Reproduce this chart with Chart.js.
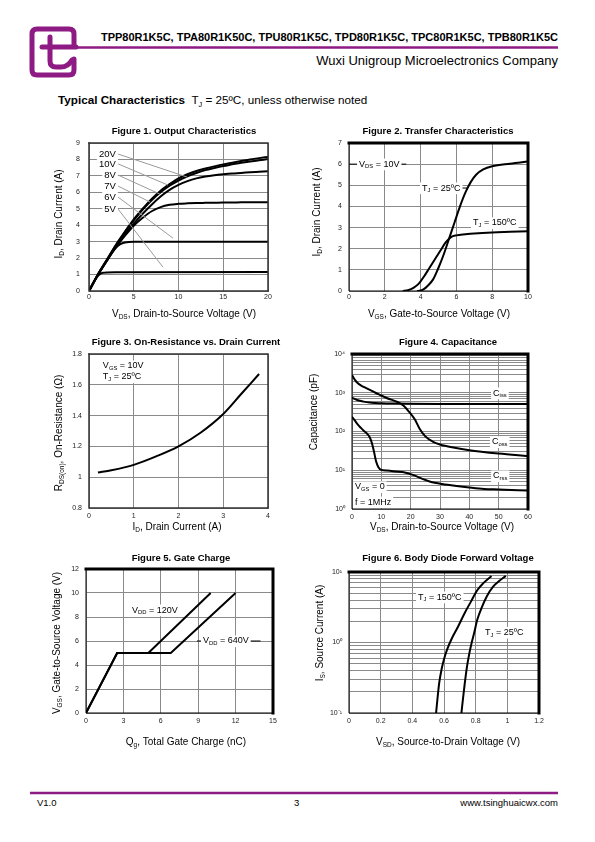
<!DOCTYPE html>
<html>
<head>
<meta charset="utf-8">
<script src="https://cdn.jsdelivr.net/npm/chart.js@4.4.1/dist/chart.umd.min.js"></script>
<style>
body { margin: 0; background: #fff; font-family: "Liberation Sans", Arial, sans-serif; color: #000; }
#page { position: relative; width: 595px; height: 842px; overflow: hidden; background: #fff; }
.txt { position: absolute; white-space: nowrap; }
canvas { position: absolute; }
.sub { font-size: 0.62em; position: relative; top: 0.35em; }
</style>
</head>
<body>
<div id="page">
  <svg class="txt" style="left:0;top:0" width="595" height="842">
    <g fill="none" stroke="#8e1b84" stroke-width="5" stroke-linecap="round" stroke-linejoin="round">
      <path d="M74 59 L74 70 Q74 75 69 75 L37 75 Q32 75 32 70 L32 34 Q32 29 37 29 L69 29 Q74 29 74 34 L74 46"/>
      <path d="M50 37 L50 61 Q50 67 56 67 L61 67 Q68 67 72 60"/>
      <path d="M42 47 L76 47"/>
    </g>
    <line x1="74" y1="47.5" x2="558" y2="47.5" stroke="#8e1b84" stroke-width="2.5"/>
    <line x1="30" y1="793" x2="558" y2="793" stroke="#8e1b84" stroke-width="2.5"/>
  </svg>
  <div class="txt" style="right:37px;top:31px;font-size:11px;line-height:13px;font-weight:bold">TPP80R1K5C, TPA80R1K50C, TPU80R1K5C, TPD80R1K5C, TPC80R1K5C, TPB80R1K5C</div>
  <div class="txt" style="right:37px;top:53px;font-size:13px;line-height:15px">Wuxi Unigroup Microelectronics Company</div>
  <div class="txt" style="left:58px;top:93px;font-size:11.7px;line-height:14px"><b>Typical Characteristics</b>&nbsp; T<span class="sub">J</span> = 25ºC, unless otherwise noted</div>
  <div class="txt" style="left:37px;top:797px;font-size:9.5px;line-height:12px">V1.0</div>
  <div class="txt" style="left:294px;top:797px;font-size:9.5px;line-height:12px">3</div>
  <div class="txt" style="right:37px;top:797px;font-size:9.5px;line-height:12px">www.tsinghuaicwx.com</div>

  <canvas id="fig1"></canvas>
  <canvas id="fig2"></canvas>
  <canvas id="fig3"></canvas>
  <canvas id="fig4"></canvas>
  <canvas id="fig5"></canvas>
  <canvas id="fig6"></canvas>
</div>

<script>
// Figure 1. Output Characteristics (I_D vs V_DS for several V_GS)
const outXTicks = [0, 5, 10, 15, 20];
const outYTicks = [0, 1, 2, 3, 4, 5, 6, 7, 8, 9];
const vdsOut = [0, 1, 2, 3, 4, 5, 6, 7, 8, 9, 10, 11, 12, 13, 14, 15, 16, 17, 18, 19, 20];
const id20V = [0, 1.0, 1.9, 2.8, 3.6, 4.35, 5.0, 5.6, 6.1, 6.5, 6.85, 7.1, 7.3, 7.45, 7.58, 7.7, 7.8, 7.9, 8.0, 8.08, 8.15];
const id10V = [0, 1.0, 1.9, 2.78, 3.57, 4.3, 4.95, 5.52, 6.0, 6.4, 6.72, 6.98, 7.18, 7.35, 7.48, 7.6, 7.7, 7.8, 7.88, 7.95, 8.02];
const id8V = [0, 1.0, 1.85, 2.7, 3.45, 4.1, 4.7, 5.25, 5.75, 6.15, 6.45, 6.68, 6.85, 6.96, 7.04, 7.1, 7.15, 7.18, 7.22, 7.25, 7.28];
const id7V = [0, 1.0, 1.85, 2.65, 3.35, 3.97, 4.45, 4.85, 5.1, 5.24, 5.3, 5.33, 5.35, 5.36, 5.37, 5.38, 5.38, 5.39, 5.39, 5.4, 5.4];
const vds6V = [0, 0.5, 1, 1.5, 2, 2.5, 3, 3.5, 4, 5, 20];
const id6V = [0, 0.5, 0.97, 1.42, 1.85, 2.28, 2.63, 2.85, 2.95, 3.0, 3.0];
const vds5V = [0, 0.5, 1, 1.3, 1.6, 2, 3, 20];
const id5V = [0, 0.5, 0.92, 1.06, 1.11, 1.13, 1.14, 1.15];

// Figure 2. Transfer Characteristics
const trXTicks = [0, 2, 4, 6, 8, 10];
const trYTicks = [0, 1, 2, 3, 4, 5, 6, 7];
const vgs25 = [3.8, 4.0, 4.2, 4.4, 4.7, 5.0, 5.3, 5.6, 5.9, 6.2, 6.5, 6.8, 7.1, 7.5, 8.0, 9.0, 10];
const idT25 = [0, 0.02, 0.1, 0.25, 0.55, 1.1, 1.75, 2.5, 3.25, 4.0, 4.65, 5.15, 5.5, 5.75, 5.9, 6.02, 6.12];
const vgs150 = [3.0, 3.3, 3.6, 3.9, 4.2, 4.5, 4.8, 5.1, 5.4, 5.7, 6.0, 6.5, 7, 8, 9, 10];
const idT150 = [0, 0.04, 0.15, 0.35, 0.7, 1.1, 1.5, 1.9, 2.3, 2.55, 2.63, 2.68, 2.72, 2.77, 2.8, 2.83];

// Figure 3. On-Resistance vs. Drain Current
const ronXTicks = [0, 1, 2, 3, 4];
const ronYTicks = [0.8, 1, 1.2, 1.4, 1.6, 1.8];
const ronYLabels = ['0.8', '1', '1.2', '1.4', '1.6', '1.8'];
const idRon = [0.2, 0.5, 1.0, 1.5, 2.0, 2.5, 3.0, 3.4, 3.8];
const rdsOn = [1.03, 1.045, 1.08, 1.135, 1.2, 1.29, 1.41, 1.54, 1.67];

// Figure 4. Capacitance
const capXTicks = [0, 10, 20, 30, 40, 50, 60];
const capDecades = [1, 10, 100, 1000, 10000];
const capYLabels = ['10⁰', '10¹', '10²', '10³', '10⁴'];
const vdsCiss = [0, 2, 4, 6, 8, 10, 15, 20, 30, 40, 50, 60];
const ciss = [750, 640, 590, 560, 545, 535, 525, 520, 515, 512, 510, 510];
const vdsCoss = [0, 1, 2, 3, 5, 8, 10, 12, 15, 17.5, 19.5, 21.5, 23, 25, 27.5, 30, 35, 40, 50, 60];
const coss = [2880, 2140, 1750, 1550, 1300, 1000, 850, 720, 600, 470, 320, 200, 120, 75, 55, 46, 38, 33, 27, 23];
const vdsCrss = [0, 1, 2, 3, 4, 5, 6, 6.8, 7.5, 8.2, 9, 10, 12, 15, 18, 21, 24, 27, 30, 35, 40, 45, 50, 60];
const crss = [240, 190, 150, 125, 105, 90, 72, 50, 30, 17, 12, 10.2, 9.8, 9.3, 8.8, 7.5, 6.0, 5.0, 4.5, 4.0, 3.6, 3.3, 3.2, 3.0];

// Figure 5. Gate Charge
const gcXTicks = [0, 3, 6, 9, 12, 15];
const gcYTicks = [0, 2, 4, 6, 8, 10, 12];
const qg120 = [0, 2.5, 5, 10];
const vgs120 = [0, 5, 5, 10];
const qg640 = [0, 2.5, 6.8, 12];
const vgs640 = [0, 5, 5, 10];

// Figure 6. Body Diode Forward Voltage
const bdXTicks = [0, 0.2, 0.4, 0.6, 0.8, 1, 1.2];
const bdXLabels = ['0', '0.2', '0.4', '0.6', '0.8', '1', '1.2'];
const bdDecades = [0.1, 1, 10];
const bdYLabels = ['10⁻¹', '10⁰', '10¹'];
const vsd150 = [0.55, 0.56, 0.57, 0.585, 0.6, 0.62, 0.65, 0.69, 0.73, 0.77, 0.81, 0.85, 0.9];
const is150 = [0.1, 0.17, 0.27, 0.42, 0.58, 0.8, 1.15, 1.7, 2.6, 3.8, 5.5, 7.0, 8.8];
const vsd25 = [0.71, 0.72, 0.73, 0.745, 0.76, 0.775, 0.79, 0.81, 0.84, 0.87, 0.91, 0.95, 0.99];
const is25 = [0.1, 0.16, 0.25, 0.45, 0.7, 1.0, 1.35, 2.1, 3.2, 4.5, 6.2, 7.5, 8.8];

const FONT = '"Liberation Sans", Arial, sans-serif';
Chart.defaults.font.family = FONT;

function pts(xs, ys) {
    return xs.map((x, i) => ({ x: x, y: ys[i] }));
}

// minor grid values of a log axis: 1..9 times every decade
function logGrid(decades) {
    const out = [];
    decades.forEach((d, i) => {
        if (i === decades.length - 1) { out.push(d); return; }
        for (let m = 1; m <= 9; m++) out.push(m === 1 ? d : d * m);
    });
    return out;
}

// "V_{DS} = 10V" -> parts with subscripts
function richParts(s) {
    return s.split(/(_\{[^}]*\}|\^\{[^}]*\})/).filter(Boolean).map(p => {
        if (p.startsWith('_{')) return { t: p.slice(2, -1), k: 'sub' };
        if (p.startsWith('^{')) return { t: p.slice(2, -1), k: 'sup' };
        return { t: p, k: '' };
    });
}

function drawRich(ctx, s, x, y, size, opts) {
    opts = opts || {};
    const parts = richParts(s);
    const weight = opts.bold ? 'bold ' : '';
    const fontFor = k => weight + (k ? size * 0.65 : size) + 'px ' + FONT;
    let w = 0;
    parts.forEach(p => { ctx.font = fontFor(p.k); p.w = ctx.measureText(p.t).width; w += p.w; });
    let sx = opts.align === 'center' ? x - w / 2 : opts.align === 'right' ? x - w : x;
    if (opts.bg) {
        ctx.fillStyle = '#fff';
        ctx.fillRect(sx - 2, y - size * 0.62, w + 4, size * 1.3);
    }
    ctx.fillStyle = '#000';
    ctx.textAlign = 'left';
    ctx.textBaseline = 'middle';
    parts.forEach(p => {
        ctx.font = fontFor(p.k);
        const dy = p.k === 'sub' ? size * 0.3 : p.k === 'sup' ? -size * 0.35 : 0;
        ctx.fillText(p.t, sx, y + dy);
        sx += p.w;
    });
}

// titles, in-plot labels, leader lines and the plot frame
const decorPlugin = {
    id: 'decor',
    afterDatasetsDraw(chart, args, o) {
        const ctx = chart.ctx;
        const xs = chart.scales.x, ys = chart.scales.y;
        ctx.save();
        (o.leaders || []).forEach(l => {
            ctx.strokeStyle = l.color || '#000';
            ctx.lineWidth = l.width || 1;
            ctx.beginPath();
            ctx.moveTo(xs.getPixelForValue(l.from[0]), ys.getPixelForValue(l.from[1]));
            ctx.lineTo(xs.getPixelForValue(l.to[0]), ys.getPixelForValue(l.to[1]));
            ctx.stroke();
        });
        (o.labels || []).forEach(l => {
            drawRich(ctx, l.text, xs.getPixelForValue(l.at[0]), ys.getPixelForValue(l.at[1]),
                o.labelSize || 9, { align: l.align || 'left', bg: true });
        });
        ctx.restore();
    },
    afterDraw(chart, args, o) {
        const ctx = chart.ctx, a = chart.chartArea;
        const f = o.frame;
        ctx.save();
        ctx.strokeStyle = f.color;
        ctx.lineCap = 'square';
        ctx.lineWidth = f.thin;
        ctx.beginPath();
        ctx.moveTo(a.left, a.top); ctx.lineTo(a.left, a.bottom); ctx.lineTo(a.right, a.bottom);
        ctx.stroke();
        ctx.lineWidth = f.thick;
        ctx.beginPath();
        ctx.moveTo(a.left, a.top); ctx.lineTo(a.right, a.top); ctx.lineTo(a.right, a.bottom);
        ctx.stroke();

        const ox = o.origin[0], oy = o.origin[1];
        drawRich(ctx, o.title, o.titleAt[0] - ox, o.titleAt[1] - oy, 9.5, { align: 'center', bold: true });
        drawRich(ctx, o.xTitle, o.xTitleAt[0] - ox, o.xTitleAt[1] - oy, 10, { align: 'center' });
        ctx.translate(o.yTitleAt[0] - ox, o.yTitleAt[1] - oy);
        ctx.rotate(-Math.PI / 2);
        drawRich(ctx, o.yTitle, 0, 0, 10, { align: 'center' });
        ctx.restore();
    }
};
Chart.register(decorPlugin);

function axis(a, dir) {
    const grid = a.grid || a.ticks;
    const labels = a.labels || a.ticks.map(String);
    return {
        type: a.type || 'linear',
        min: a.min,
        max: a.max,
        grid: { color: '#8a8a8a', lineWidth: 1, drawTicks: false },
        border: { display: false },
        ticks: {
            autoSkip: false,
            maxRotation: 0,
            padding: a.pad,
            color: '#222',
            font: { size: 7 },
            callback: v => {
                const i = a.ticks.indexOf(v);
                return i >= 0 ? labels[i] : '';
            }
        },
        afterBuildTicks: s => { s.ticks = grid.map(v => ({ value: v })); },
        afterFit: s => { if (dir === 'x') s.height = 16; else s.width = 30; }
    };
}

function makeChart(id, box, plot, cfg) {
    const cv = document.getElementById(id);
    cv.width = box.w;
    cv.height = box.h;
    cv.style.left = box.x + 'px';
    cv.style.top = box.y + 'px';
    return new Chart(cv, {
        type: 'line',
        data: {
            datasets: cfg.datasets.map(d => Object.assign({
                borderColor: '#000',
                borderWidth: 2,
                pointRadius: 0,
                fill: false,
                cubicInterpolationMode: cfg.straight ? 'default' : 'monotone',
                tension: cfg.straight ? 0 : 0.4
            }, d))
        },
        options: {
            responsive: false,
            animation: false,
            devicePixelRatio: 1,
            layout: {
                padding: {
                    left: plot.l - box.x - 30,
                    top: plot.t - box.y,
                    right: box.x + box.w - plot.r,
                    bottom: box.y + box.h - plot.b - 16
                }
            },
            plugins: {
                legend: { display: false },
                tooltip: { enabled: false },
                decor: Object.assign({ origin: [box.x, box.y] }, cfg.decor)
            },
            scales: { x: axis(cfg.x, 'x'), y: axis(cfg.y, 'y') }
        }
    });
}

const thinFrame = { color: '#333', thin: 1.5, thick: 1.5 };
const boldFrame = { color: '#000', thin: 1, thick: 3 };
const gray = '#9a9a9a';

makeChart('fig1', { x: 40, y: 120, w: 250, h: 205 }, { l: 89, t: 143, r: 268, b: 291 }, {
    x: { min: 0, max: 20, ticks: outXTicks, pad: 2 },
    y: { min: 0, max: 9, ticks: outYTicks, pad: 9 },
    datasets: [
        { label: '20V', data: pts(vdsOut, id20V) },
        { label: '10V', data: pts(vdsOut, id10V) },
        { label: '8V', data: pts(vdsOut, id8V) },
        { label: '7V', data: pts(vdsOut, id7V) },
        { label: '6V', data: pts(vds6V, id6V) },
        { label: '5V', data: pts(vds5V, id5V) }
    ],
    decor: {
        frame: thinFrame, labelSize: 9.5,
        title: 'Figure 1. Output Characteristics', titleAt: [184, 131],
        xTitle: 'V_{DS}, Drain-to-Source Voltage (V)', xTitleAt: [184, 314],
        yTitle: 'I_{D}, Drain Current (A)', yTitleAt: [59, 214],
        leaders: [
            { from: [3.25, 8.33], to: [10.95, 6.93], color: gray },
            { from: [3.25, 7.73], to: [8.83, 6.44], color: gray },
            { from: [3.25, 7.05], to: [7.93, 5.89], color: gray },
            { from: [3.25, 6.38], to: [6.82, 5.41], color: gray },
            { from: [3.25, 5.71], to: [9.39, 3.21], color: gray },
            { from: [3.25, 4.98], to: [8.27, 1.45], color: gray }
        ],
        labels: [
            { text: '20V', at: [3.0, 8.33], align: 'right' },
            { text: '10V', at: [3.0, 7.73], align: 'right' },
            { text: '8V', at: [3.0, 7.05], align: 'right' },
            { text: '7V', at: [3.0, 6.38], align: 'right' },
            { text: '6V', at: [3.0, 5.71], align: 'right' },
            { text: '5V', at: [3.0, 4.98], align: 'right' }
        ]
    }
});

makeChart('fig2', { x: 300, y: 120, w: 250, h: 205 }, { l: 349, t: 143, r: 528, b: 291 }, {
    x: { min: 0, max: 10, ticks: trXTicks, pad: 2 },
    y: { min: 0, max: 7, ticks: trYTicks, pad: 7 },
    datasets: [
        { label: 'TJ = 25ºC', data: pts(vgs25, idT25) },
        { label: 'TJ = 150ºC', data: pts(vgs150, idT150) }
    ],
    decor: {
        frame: boldFrame,
        title: 'Figure 2. Transfer Characteristics', titleAt: [438, 131],
        xTitle: 'V_{GS}, Gate-to-Source Voltage (V)', xTitleAt: [439, 314],
        yTitle: 'I_{D}, Drain Current (A)', yTitleAt: [317, 212],
        leaders: [
            { from: [0, 6.0], to: [3.2, 6.0] },
            { from: [6.1, 4.87], to: [6.62, 4.87] }
        ],
        labels: [
            { text: 'V_{DS} = 10V', at: [0.56, 6.0] },
            { text: 'T_{J} = 25ºC', at: [4.08, 4.87] },
            { text: 'T_{J} = 150ºC', at: [6.93, 3.22] }
        ]
    }
});

makeChart('fig3', { x: 40, y: 332, w: 250, h: 205 }, { l: 89, t: 354, r: 268, b: 508 }, {
    x: { min: 0, max: 4, ticks: ronXTicks, pad: 4 },
    y: { min: 0.8, max: 1.8, ticks: ronYTicks, labels: ronYLabels, pad: 7 },
    datasets: [{ label: 'RDS(on)', data: pts(idRon, rdsOn) }],
    decor: {
        frame: thinFrame,
        title: 'Figure 3. On-Resistance vs. Drain Current', titleAt: [186, 342],
        xTitle: 'I_{D}, Drain Current (A)', xTitleAt: [177, 527],
        yTitle: 'R_{DS(on)}, On-Resistance (Ω)', yTitleAt: [59, 433],
        labels: [
            { text: 'V_{GS} = 10V', at: [0.31, 1.722] },
            { text: 'T_{J} = 25ºC', at: [0.31, 1.651] }
        ]
    }
});

makeChart('fig4', { x: 300, y: 332, w: 250, h: 205 }, { l: 352, t: 354, r: 528, b: 509 }, {
    x: { min: 0, max: 60, ticks: capXTicks, pad: 4 },
    y: { type: 'logarithmic', min: 1, max: 10000, ticks: capDecades, labels: capYLabels, grid: logGrid(capDecades), pad: 7 },
    datasets: [
        { label: 'Ciss', data: pts(vdsCiss, ciss) },
        { label: 'Coss', data: pts(vdsCoss, coss) },
        { label: 'Crss', data: pts(vdsCrss, crss) }
    ],
    decor: {
        frame: boldFrame,
        title: 'Figure 4. Capacitance', titleAt: [448, 342],
        xTitle: 'V_{DS}, Drain-to-Source Voltage (V)', xTitleAt: [442, 527],
        yTitle: 'Capacitance (pF)', yTitleAt: [314, 412],
        labels: [
            { text: 'C_{iss}', at: [48.1, 980] },
            { text: 'C_{oss}', at: [47.7, 54] },
            { text: 'C_{rss}', at: [48.1, 7.1] },
            { text: 'V_{GS} = 0', at: [1.0, 3.7] },
            { text: 'f = 1MHz', at: [1.0, 1.5] }
        ]
    }
});

makeChart('fig5', { x: 40, y: 547, w: 250, h: 205 }, { l: 86, t: 569, r: 273, b: 713 }, {
    straight: true,
    x: { min: 0, max: 15, ticks: gcXTicks, pad: 4 },
    y: { min: 0, max: 12, ticks: gcYTicks, pad: 7 },
    datasets: [
        { label: 'VDD = 120V', data: pts(qg120, vgs120) },
        { label: 'VDD = 640V', data: pts(qg640, vgs640) }
    ],
    decor: {
        frame: boldFrame,
        title: 'Figure 5. Gate Charge', titleAt: [181, 558],
        xTitle: 'Q_{g}, Total Gate Charge (nC)', xTitleAt: [186, 742],
        yTitle: 'V_{GS}, Gate-to-Source Voltage (V)', yTitleAt: [57, 643],
        leaders: [{ from: [8.9, 6.0], to: [14.0, 6.0] }],
        labels: [
            { text: 'V_{DD} = 120V', at: [3.69, 8.58] },
            { text: 'V_{DD} = 640V', at: [9.38, 6.0] }
        ]
    }
});

makeChart('fig6', { x: 300, y: 547, w: 250, h: 205 }, { l: 349, t: 572, r: 539, b: 713 }, {
    x: { min: 0, max: 1.2, ticks: bdXTicks, labels: bdXLabels, pad: 4 },
    y: { type: 'logarithmic', min: 0.1, max: 10, ticks: bdDecades, labels: bdYLabels, grid: logGrid(bdDecades), pad: 7 },
    datasets: [
        { label: 'TJ = 150ºC', data: pts(vsd150, is150) },
        { label: 'TJ = 25ºC', data: pts(vsd25, is25) }
    ],
    decor: {
        frame: boldFrame,
        title: 'Figure 6. Body Diode Forward Voltage', titleAt: [448, 558],
        xTitle: 'V_{SD}, Source-to-Drain Voltage (V)', xTitleAt: [448, 742],
        yTitle: 'I_{S}, Source Current (A)', yTitleAt: [320, 633],
        labels: [
            { text: 'T_{J} = 150ºC', at: [0.436, 4.4] },
            { text: 'T_{J} = 25ºC', at: [0.859, 1.39] }
        ]
    }
});
</script>
</body>
</html>
